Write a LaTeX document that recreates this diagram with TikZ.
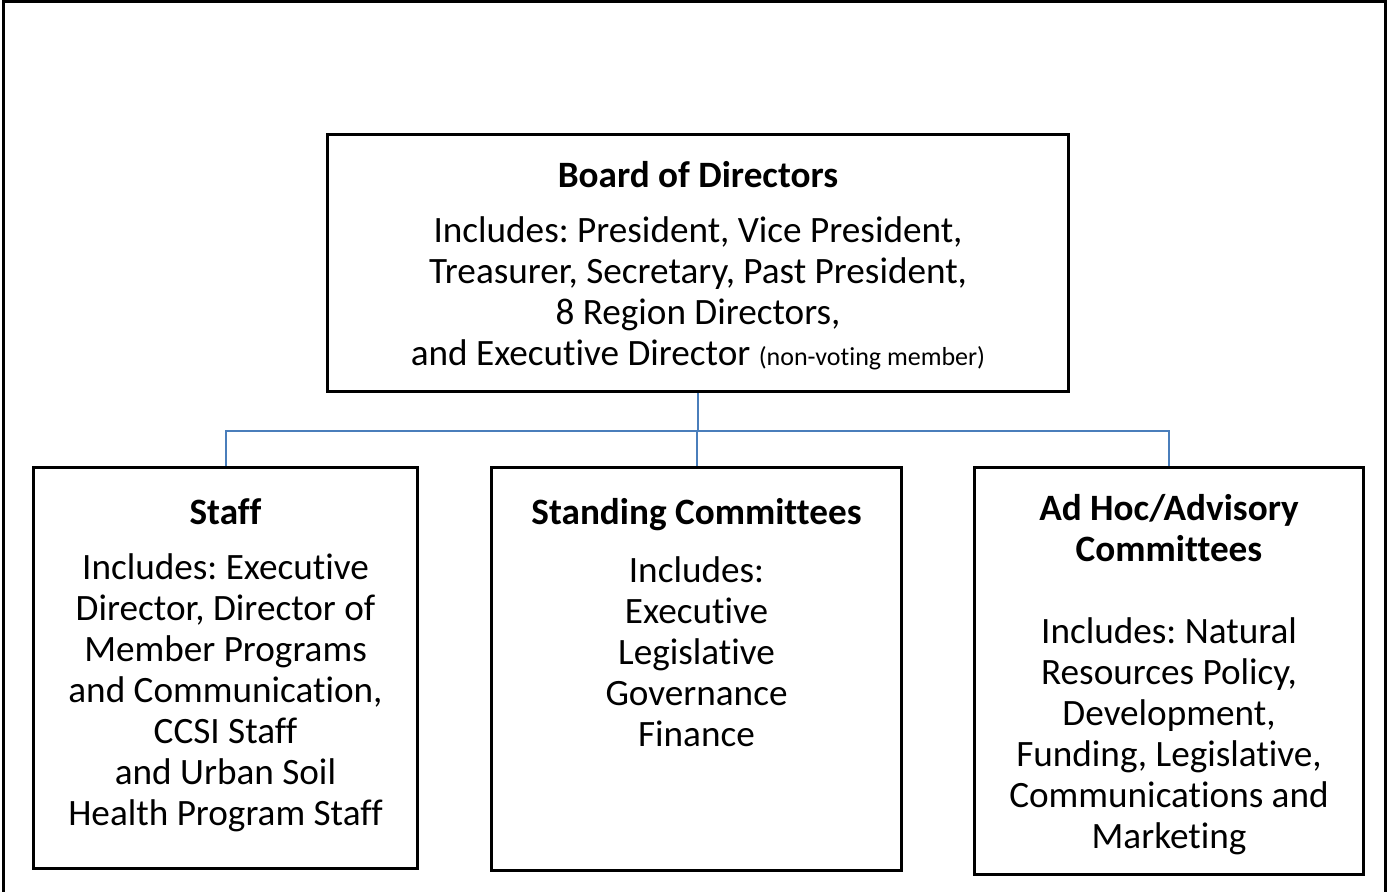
\documentclass[tikz,border=0pt]{standalone}
\usepackage{fontspec}
\setmainfont{Carlito}[Ligatures=NoCommon]
\usetikzlibrary{positioning}
\definecolor{linkblue}{HTML}{4A7EBB}
\frenchspacing

\begin{document}
\begin{tikzpicture}[
  x=0.5pt, y=-0.5pt,
  box/.style  = {draw, line width=1.5pt, inner sep=0pt, anchor=north west},
  txt/.style  = {align=center, inner sep=0pt,
                 font=\fontsize{18.6}{20.5}\selectfont},
  link/.style = {draw=linkblue, line width=1pt}
]

% ---- page frame (open at the bottom) ----
\useasboundingbox (0,0) rectangle (1387,892);
\draw[line width=1.5pt] (3,892) -- (3,2) -- (1385,2) -- (1385,892);

% ---- boxes ----
\node[box, minimum width=370.5pt, minimum height=128.5pt] (board) at (326,133) {};
\node[box, minimum width=192pt,   minimum height=200.5pt] (staff) at (32,466)  {};
\node[box, minimum width=205pt,   minimum height=201.5pt] (std)   at (490,466) {};
\node[box, minimum width=194.5pt, minimum height=203.5pt] (adhoc) at (973,466) {};

% ---- texts ----
\node[txt, below=14pt of board.north] (boardtxt) {
  \textbf{Board of Directors}\\[7pt]
  Includes: President, Vice President,\\
  Treasurer, Secretary, Past President,\\
  8 Region Directors,\\
  and Executive Director {\fontsize{13}{15}\selectfont (non-voting member)}
};

\node[txt, below=16pt of staff.north] (stafftxt) {
  \textbf{Staff}\\[7pt]
  Includes: Executive\\
  Director, Director of\\
  Member Programs\\
  and Communication,\\
  CCSI Staff\\
  and Urban Soil\\
  Health Program Staff
};

\node[txt, below=16pt of std.north] (stdtxt) {
  \textbf{Standing Committees}\\[8.5pt]
  Includes:\\
  Executive\\
  Legislative\\
  Governance\\
  Finance
};

\node[txt, below=14pt of adhoc.north] (adhoctxt) {
  \textbf{Ad Hoc/Advisory}\\
  \textbf{Committees}\\[20.5pt]
  Includes: Natural\\
  Resources Policy,\\
  Development,\\
  Funding, Legislative,\\
  Communications and\\
  Marketing
};

% ---- connectors ----
\draw[link] (board.south) -- ++(0,38) coordinate (bus);
\draw[link] (bus) -| (staff.north);
\draw[link] (bus) -| (std.north);
\draw[link] (bus) -| (adhoc.north);

\end{tikzpicture}
\end{document}
